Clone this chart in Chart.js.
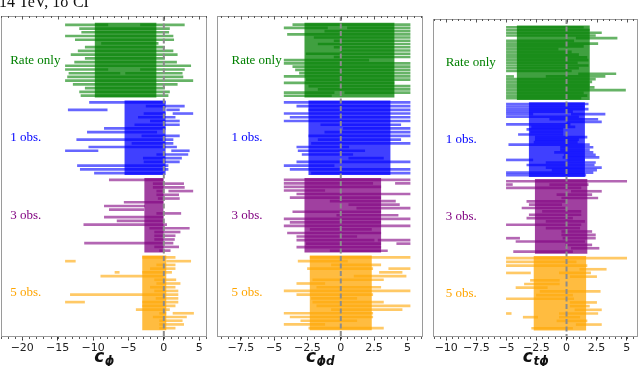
<!DOCTYPE html>
<html>
<head>
<meta charset="utf-8">
<script src="https://cdn.jsdelivr.net/npm/chart.js@4.4.1/dist/chart.umd.min.js"></script>
<style>
  body { margin: 0; background: #fff; }
  #wrap { position: relative; width: 640px; height: 366px; overflow: hidden; }
  canvas { position: absolute; top: 0; }
</style>
</head>
<body>
<div id="wrap">
  <canvas id="c1" width="212" height="366" style="left:0px"></canvas>
  <canvas id="c2" width="213" height="366" style="left:212px"></canvas>
  <canvas id="c3" width="215" height="366" style="left:425px"></canvas>
</div>
<script>
// group names and colours (r,g,b)
const groupNames = ['Rate only', '1 obs.', '3 obs.', '5 obs.'];
const groupColors = ['0,128,0', '0,0,255', '128,0,128', '255,165,0'];

// ---- c_phi panel: each row is [lo, hi] or [lo, hi, lo2, hi2]
const phiBoxes = [[-9.7, -1.1], [-5.5, 0.2], [-2.7, -0.1], [-3.0, 0.3]];
const phiRate = [
  [-13.9, -7.9, -3.3, 2.9], [-11.9, 0.8], [-11.6, 0.7], [-13.9, 1.3], [-12.5, 1.4],
  [-8.8, -0.8], [-11.1, 0.1], [-12.1, 1.3], [-13.1, 1.9], [-11.1, 0.1],
  [-12.6, 1.8], [-13.9, 3.8], [-13.9, -7.9, -3.3, 2.9], [-13.4, -6.2, -5.4, 2.6], [-13.6, 2.7],
  [-13.9, 4.1], [-12.8, 1.9], [-11.1, 0.1], [-11.9, 0.8], [-11.7, 0.6]
];
const phiObs1 = [
  [-10.5, 0.2], [-2.5, 2.9], [-13.5, -8.0, 0.4, 2.2], [-2.8, 0.2, 1.3, 4.1], [-3.6, 1.6],
  [-1.9, 2.2], [-4.1, 2.2], [-8.4, 0.2], [-10.8, -1.0], [-3.1, 2.2],
  [-12.3, 1.3], [-4.5, 1.3], [-10.6, 1.8], [-13.9, -9.3, 1.1, 3.6], [-1.0, 3.4],
  [-2.9, 2.5], [-2.8, 2.2], [-12.2, 0.6], [-11.8, 0.6], [-9.8, -0.1]
];
const phiObs3 = [
  [-7.7, -0.1], [-1.5, 2.8], [-1.5, 2.9], [-1.0, -0.2, 0.7, 4.1], [-1.0, 2.1],
  [-0.8, 2.2], [-5.6, -0.1], [-8.4, -2.7], [-7.7, -2.8], [-1.0, 2.4],
  [-8.4, -0.1], [-6.6, -0.1], [-11.3, 0.4], [-2.0, 3.6], [-1.3, 2.3],
  [-1.3, 1.6], [-1.3, 1.5], [-11.2, 1.3], [-1.3, 2.1], [-0.6, 0.9]
];
const phiObs5 = [
  [-3.0, 1.6], [-13.9, -12.5, 0.4, 3.8], [-1.0, 1.6], [-1.9, 1.6], [-6.9, -6.3, -3.0, 1.1],
  [-8.9, -0.1], [-1.3, 1.7], [-1.0, 2.3], [-1.9, 1.6], [-1.3, 2.0],
  [-13.2, 2.0], [-1.1, 2.0], [-13.9, -11.2, -3.0, 2.0], [-3.0, 1.6], [-3.9, 0.8],
  [-0.6, 0.3, 1.3, 4.2], [-1.5, 3.2], [-0.6, 2.6], [-0.6, 2.8], [-0.6, 1.6]
];
const phiTicks = [-20, -15, -10, -5, 0, 5];

// ---- c_phid panel
const phidBoxes = [[-2.7, 4.0], [-2.4, 3.7], [-2.7, 3.0], [-2.3, 2.3]];
const phidRate = [
  [-3.6, 5.2], [-4.25, -1.0, 0.5, 5.2], [-1.2, 5.2], [-4.0, 5.2], [-2.0, 5.2],
  [-0.5, 5.2], [-1.7, 5.2], [-0.5, 5.2], [0.0, 5.2], [-2.6, 5.2],
  [-0.5, 5.2], [-4.25, 2.1], [-4.25, 5.2], [-3.6, 5.2], [-3.4, 5.2],
  [-3.1, 5.2], [-4.25, 5.2], [-2.6, 5.2], [-4.25, 4.0], [-2.4, 5.2],
  [-1.7, 5.2], [-4.25, -0.5, 0.3, 5.2], [-4.25, -0.7]
];
const phidObs1 = [
  [-4.25, 5.2], [-3.3, 5.2], [-2.4, 5.2], [-4.25, 5.2], [-3.8, 5.2],
  [-4.25, 5.2], [-1.5, 4.5], [0.2, 5.2], [-1.2, 5.2], [-2.4, 5.2],
  [-1.7, 4.5], [-2.2, 5.2], [-3.3, 0.6], [-3.2, 1.8], [-2.9, 0.9],
  [0.6, 3.2], [-3.3, 5.2], [-4.25, -0.5], [-3.8, 5.2], [-2.2, 5.2]
];
const phidObs3 = [
  [-4.25, 5.2], [-4.25, 2.4, 4.1, 5.2], [-4.25, 3.0], [-4.25, -1.2], [-3.3, 5.2],
  [-3.8, 3.0], [-0.8, 4.1], [0.6, 4.4], [1.2, 5.2], [-3.6, 3.0],
  [-0.3, 4.3], [-4.25, 5.2], [-3.8, 3.0], [-4.25, 5.2], [-2.3, 2.3],
  [-4.0, 3.0], [-3.3, 1.2], [-3.3, 2.5, 2.8, 5.2], [-2.6, 3.0, 4.2, 5.2], [-3.3, 3.0],
  [-0.8, 3.5]
];
const phidObs5 = [
  [-2.3, 5.2], [-3.2, 0.5], [-0.7, 3.0], [-2.5, 2.4, 3.6, 5.2], [2.9, 4.6],
  [1.0, 4.9], [-2.1, 3.2], [-3.3, -1.2], [-1.8, 3.0], [-4.25, 5.2],
  [-3.3, 2.4], [-2.2, 1.2], [-2.1, 3.2], [-1.8, 5.2], [-0.7, 4.6],
  [-4.25, 2.4], [-3.8, 2.4], [-3.0, 1.2], [-4.25, -1.2], [-2.4, 3.2]
];
const phidTicks = [-7.5, -5, -2.5, 0, 2.5, 5];

// ---- c_tphi panel
const tphiBoxes = [[-4.1, 1.9], [-3.1, 1.5], [-2.6, 1.7], [-2.7, 1.6]];
const tphiRate = [
  [-5, 1.4], [-5, 1.9], [-5, 2.9], [-5, 2.4], [0.8, 4.2],
  [-5, 0.6], [-5, 2.6], [-5, 1.4], [-5, -0.7], [-5, 0.4],
  [-5, 1.0], [-5, 1.7], [-5, 1.8], [-5, 0.9], [-5, 1.8],
  [-5, 1.0], [-5, 0.4], [1.0, 4.1], [-5, -4.4, -1.7, 3.2], [-5, 2.4],
  [-5, 2.1], [-5, 1.9], [-5, 2.3], [-5, 4.9], [-5, 1.4],
  [-5, 1.7], [-5, 1.2]
];
const tphiObs1 = [
  [-5, 1.8], [-5, 1.5], [-5, 1.8], [-5, 0.5], [-5, -2.8, 0.4, 3.2],
  [-5, 1.0], [-1.4, 2.6], [0.0, 2.9], [-5, 0.3], [-2.9, 0.7],
  [-3.3, -0.3], [-3.0, -0.3], [-4.0, -0.3], [-2.6, 1.7], [-2.6, 1.0],
  [-2.7, 0.9], [-4.8, 1.9], [-0.5, 2.2], [-0.5, 1.9], [-1.0, 2.2],
  [-0.2, 2.4], [-0.3, 2.7], [-5, -2.8, 0.1, 1.5], [-1.7, 2.4], [-3.3, 2.3],
  [-1.7, 2.9], [-1.2, 2.5], [-5, 2.2], [-5, 1.6]
];
const tphiObs3 = [
  [-5, 5], [-5, -4.5, -1.4, 1.8], [-5, 1.2], [0.4, 2.9], [-0.8, 2.1],
  [-0.4, 2.6], [-3.3, -0.1], [-3.1, -0.4], [-3.7, -0.1], [-2.0, 1.2],
  [-3.1, 1.2], [-3.3, 0.5], [-1.7, 1.5], [-5, 1.2], [-1.7, 1.1],
  [-0.4, 2.1], [-0.4, 2.4], [-5, -3.9, -0.3, 2.4], [-4.2, 1.5], [-0.1, 2.1],
  [0.4, 2.7], [-4.4, 0.5]
];
const tphiObs5 = [
  [-5, 5], [-5, 0.8], [-5, 1.7], [1.1, 3.3], [-5, -3.0, -0.6, 2.0],
  [0.3, 2.5], [-3.0, -0.6], [-3.5, -0.6], [-4.2, -1.6], [-2.2, 2.8],
  [-2.5, 0.5], [-5, 0.6], [0.3, 2.5], [0.3, 1.9], [0.7, 2.9],
  [-5, -4.6, -0.6, 2.6], [-3.6, -2.4, -0.6, 1.1], [-0.8, 1.7], [0.8, 2.9], [-2.9, 0.5]
];
const tphiTicks = [-10, -7.5, -5, -2.5, 0, 2.5, 5];

// datasets for one group: shaded box + the row intervals
function groupDatasets(rows, box, k) {
  const color = groupColors[k];
  const n = rows.length;
  const first = [], second = [];
  rows.forEach((r, i) => {
    const yv = k + 0.96 * (i + 0.5) / n;
    first.push({ x: [r[0], r[1]], y: yv });
    if (r.length > 2) second.push({ x: [r[2], r[3]], y: yv });
  });
  const lineStyle = { backgroundColor: 'rgba(' + color + ',0.6)', barThickness: 2, grouped: false, order: 1, borderWidth: 0 };
  return [
    { data: [{ x: box, y: k + 0.48 }], backgroundColor: 'rgba(' + color + ',0.75)', barThickness: 74, grouped: false, order: 0, borderWidth: 0 },
    Object.assign({ data: first }, lineStyle),
    Object.assign({ data: second }, lineStyle)
  ];
}

const minus = v => (v < 0 ? '\u2212' : '') + Math.abs(v);

const panelDecor = {
  id: 'panelDecor',
  afterDatasetsDraw(chart, args, opts) {
    const { ctx, chartArea: a, scales: { x, y } } = chart;
    ctx.save();
    // dashed zero line
    const x0 = x.getPixelForValue(0);
    ctx.strokeStyle = '#8c8c8c';
    ctx.lineWidth = 2;
    ctx.setLineDash([5, 2.5]);
    ctx.beginPath();
    ctx.moveTo(x0, a.top);
    ctx.lineTo(x0, a.bottom);
    ctx.stroke();
    ctx.setLineDash([]);
    // frame
    ctx.strokeStyle = '#9a9a9a';
    ctx.lineWidth = 1;
    ctx.strokeRect(a.left + 0.5, a.top + 0.5, a.right - a.left - 1, a.bottom - a.top - 1);
    // minor ticks top (in) and bottom (out)
    ctx.strokeStyle = '#555';
    const st = opts.minorStep;
    for (let i = Math.ceil(x.min / st); i * st <= x.max; i++) {
      const px = Math.round(x.getPixelForValue(i * st)) + 0.5;
      ctx.beginPath();
      ctx.moveTo(px, a.top); ctx.lineTo(px, a.top + 2);
      ctx.moveTo(px, a.bottom); ctx.lineTo(px, a.bottom + 2);
      ctx.stroke();
    }
    opts.ticks.forEach(v => {
      const px = Math.round(x.getPixelForValue(v)) + 0.5;
      ctx.beginPath();
      ctx.moveTo(px, a.top); ctx.lineTo(px, a.top + 3.5);
      ctx.stroke();
    });
    // group labels
    ctx.font = '13px "Liberation Serif"';
    ctx.textAlign = 'left';
    ctx.textBaseline = 'middle';
    groupNames.forEach((name, k) => {
      ctx.fillStyle = 'rgb(' + groupColors[k] + ')';
      ctx.fillText(name, x.getPixelForValue(opts.labelX), y.getPixelForValue(k + 0.48));
    });
    // axis title c with subscript
    ctx.fillStyle = '#111';
    ctx.textBaseline = 'alphabetic';
    const mainFont = 'bold italic 17px "DejaVu Sans"';
    const subFont = 'bold italic 12px "DejaVu Sans"';
    ctx.font = mainFont;
    const w1 = ctx.measureText('c').width;
    ctx.font = subFont;
    const w2 = ctx.measureText(opts.sub).width;
    const x1 = (a.left + a.right) / 2 - (w1 + w2) / 2;
    ctx.font = mainFont;
    ctx.fillText('c', x1, 362);
    ctx.font = subFont;
    ctx.fillText(opts.sub, x1 + w1 + 0.5, 365);
    // figure title (top cut off as in the original)
    if (opts.title) {
      ctx.font = '16px "Liberation Serif"';
      ctx.fillText(opts.title, -1, 7);
    }
    ctx.restore();
  }
};

function makePanel(id, groups, boxes, ticks, range, decimals, pad, decor) {
  let datasets = [];
  groups.forEach((rows, k) => { datasets = datasets.concat(groupDatasets(rows, boxes[k], k)); });
  new Chart(document.getElementById(id), {
    type: 'bar',
    data: { datasets: datasets },
    options: {
      indexAxis: 'y',
      responsive: false,
      animation: false,
      layout: { padding: pad },
      plugins: { legend: { display: false }, tooltip: { enabled: false }, panelDecor: decor },
      scales: {
        y: { type: 'linear', reverse: true, offset: false, min: -0.09, max: 4.05, display: false },
        x: {
          type: 'linear', min: range[0], max: range[1],
          afterBuildTicks: ax => { ax.ticks = ticks.map(v => ({ value: v })); },
          afterFit: ax => { ax.height = 29; },
          ticks: {
            autoSkip: false, maxRotation: 0, padding: 1, color: '#222',
            font: { family: 'DejaVu Sans', size: 11 },
            callback: v => minus(decimals ? Number(v).toFixed(decimals) : v).replace('\u2212-', '\u2212')
          },
          grid: { drawOnChartArea: false, drawTicks: true, tickLength: 3.5, color: '#333' },
          border: { display: false }
        }
      }
    },
    plugins: [panelDecor]
  });
}

makePanel('c1', [phiRate, phiObs1, phiObs3, phiObs5], phiBoxes, phiTicks, [-23.0, 6.1], 0,
  { top: 16, left: 1, right: 5, bottom: 0 },
  { minorStep: 1, ticks: phiTicks, labelX: -21.7, sub: '\u03d5', title: '14 TeV, 1\u03c3 CI' });
makePanel('c2', [phidRate, phidObs1, phidObs3, phidObs5], phidBoxes, phidTicks, [-9.29, 6.17], 1,
  { top: 16, left: 5, right: 2, bottom: 0 },
  { minorStep: 0.5, ticks: phidTicks, labelX: -8.2, sub: '\u03d5d' });
makePanel('c3', [tphiRate, tphiObs1, tphiObs3, tphiObs5], tphiBoxes, tphiTicks, [-11.1, 5.94], 1,
  { top: 19, left: 8, right: 2, bottom: 0 },
  { minorStep: 0.5, ticks: tphiTicks, labelX: -10.05, sub: 't\u03d5' });
</script>
</body>
</html>
